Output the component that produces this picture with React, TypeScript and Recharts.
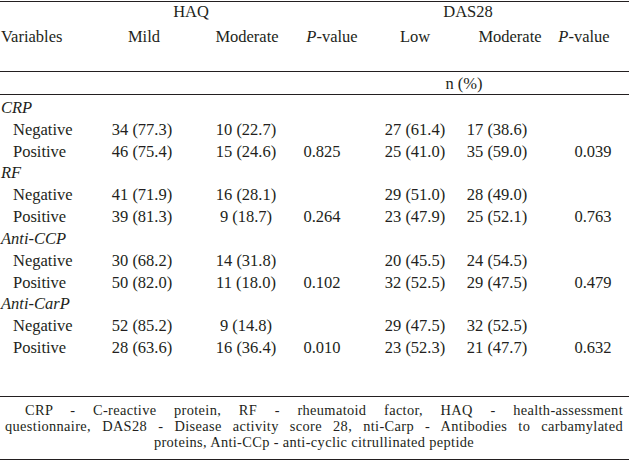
import { Scatter, ScatterChart, XAxis, YAxis } from 'recharts'

const variables = ['CRP', 'RF', 'Anti-CCP', 'Anti-CarP']

const haqMildNeg = [34, 41, 30, 52]
const haqMildNegPct = [77.3, 71.9, 68.2, 85.2]
const haqMildPos = [46, 39, 50, 28]
const haqMildPosPct = [75.4, 81.3, 82.0, 63.6]
const haqModNeg = [10, 16, 14, 9]
const haqModNegPct = [22.7, 28.1, 31.8, 14.8]
const haqModPos = [15, 9, 11, 16]
const haqModPosPct = [24.6, 18.7, 18.0, 36.4]
const haqP = [0.825, 0.264, 0.102, 0.01]

const dasLowNeg = [27, 29, 20, 29]
const dasLowNegPct = [61.4, 51.0, 45.5, 47.5]
const dasLowPos = [25, 23, 32, 23]
const dasLowPosPct = [41.0, 47.9, 52.5, 52.3]
const dasModNeg = [17, 28, 24, 32]
const dasModNegPct = [38.6, 49.0, 54.5, 52.5]
const dasModPos = [35, 25, 29, 21]
const dasModPosPct = [59.0, 52.1, 47.5, 47.7]
const dasP = [0.039, 0.763, 0.479, 0.632]

const subRows = ['Negative', 'Positive']
const footnoteLines = [
  'CRP - C-reactive protein, RF - rheumatoid factor, HAQ - health-assessment',
  'questionnaire, DAS28 - Disease activity score 28, nti-Carp - Antibodies to carbamylated',
  'proteins, Anti-CCp - anti-cyclic citrullinated peptide',
]

// layout: column stops on the x scale (0..629)
const COL_X = [142, 246, 322, 415, 497, 593]
const INK = '#231f20'
const FONT = 'Liberation Serif, DejaVu Serif, serif'
const ROW_COUNT = variables.length * 3

const np = (n: number, p: number) => `${n} (${p.toFixed(1)})`

type Cell = { x: number; y: number; text: string; group?: boolean }

const labelCells: Cell[] = []
const cols: Cell[][] = COL_X.map(() => [])
variables.forEach((v, i) => {
  const r = i * 3
  labelCells.push({ x: 0, y: r, text: v, group: true })
  subRows.forEach((s, j) => labelCells.push({ x: 0, y: r + 1 + j, text: s }))
  cols[0].push({ x: COL_X[0], y: r + 1, text: np(haqMildNeg[i], haqMildNegPct[i]) })
  cols[0].push({ x: COL_X[0], y: r + 2, text: np(haqMildPos[i], haqMildPosPct[i]) })
  cols[1].push({ x: COL_X[1], y: r + 1, text: np(haqModNeg[i], haqModNegPct[i]) })
  cols[1].push({ x: COL_X[1], y: r + 2, text: np(haqModPos[i], haqModPosPct[i]) })
  cols[2].push({ x: COL_X[2], y: r + 2, text: haqP[i].toFixed(3) })
  cols[3].push({ x: COL_X[3], y: r + 1, text: np(dasLowNeg[i], dasLowNegPct[i]) })
  cols[3].push({ x: COL_X[3], y: r + 2, text: np(dasLowPos[i], dasLowPosPct[i]) })
  cols[4].push({ x: COL_X[4], y: r + 1, text: np(dasModNeg[i], dasModNegPct[i]) })
  cols[4].push({ x: COL_X[4], y: r + 2, text: np(dasModPos[i], dasModPosPct[i]) })
  cols[5].push({ x: COL_X[5], y: r + 2, text: dasP[i].toFixed(3) })
})

function LabelShape(props: any) {
  const { cx, cy, payload } = props
  return (
    <text x={cx + (payload.group ? 1 : 13)} y={cy + 5} fontStyle={payload.group ? 'italic' : 'normal'} fill={INK} fontSize={16.5} fontFamily={FONT}>
      {payload.text}
    </text>
  )
}

function ValueShape(props: any) {
  const { cx, cy, payload } = props
  return (
    <text x={cx} y={cy + 5} textAnchor="middle" fill={INK} fontSize={16.5} fontFamily={FONT}>
      {payload.text}
    </text>
  )
}

const Rule = ({ y }: { y: number }) => <line x1={0} x2={629} y1={y} y2={y} stroke={INK} strokeWidth={1} />

const headStyle = { fill: INK, fontSize: 16.5, fontFamily: FONT }

export default function App() {
  return (
    <div style={{ position: 'relative', width: 629, height: 461, background: '#fff', fontFamily: FONT }}>
      <style>{'body{margin:0}'}</style>
      <ScatterChart width={629} height={461} margin={{ top: 97, right: 0, bottom: 102, left: 0 }} style={{ fontFamily: FONT }}>
        <XAxis type="number" dataKey="x" domain={[0, 629]} hide />
        <YAxis type="number" dataKey="y" domain={[-0.5, ROW_COUNT - 0.5]} reversed hide />
        <Scatter data={labelCells} shape={<LabelShape />} isAnimationActive={false} />
        {cols.map((c, i) => (
          <Scatter key={i} data={c} shape={<ValueShape />} isAnimationActive={false} />
        ))}
        <Rule y={1.5} />
        <Rule y={71.5} />
        <Rule y={94.5} />
        <Rule y={396.5} />
        <Rule y={459.5} />
        <text x={191} y={17} textAnchor="middle" {...headStyle}>HAQ</text>
        <text x={468} y={17} textAnchor="middle" {...headStyle}>DAS28</text>
        <text x={1} y={42} {...headStyle}>Variables</text>
        <text x={144} y={42} textAnchor="middle" {...headStyle}>Mild</text>
        <text x={247} y={42} textAnchor="middle" {...headStyle}>Moderate</text>
        <text x={332} y={42} textAnchor="middle" {...headStyle}><tspan fontStyle="italic">P</tspan>-value</text>
        <text x={415} y={42} textAnchor="middle" {...headStyle}>Low</text>
        <text x={510} y={42} textAnchor="middle" {...headStyle}>Moderate</text>
        <text x={584} y={42} textAnchor="middle" {...headStyle}><tspan fontStyle="italic">P</tspan>-value</text>
        <text x={464} y={89} textAnchor="middle" {...headStyle}>n (%)</text>
      </ScatterChart>
      <div
        style={{
          position: 'absolute',
          left: 0,
          top: 402,
          width: 629,
          boxSizing: 'border-box',
          padding: '0 6px 0 5px',
          fontFamily: FONT,
          fontSize: 14.4,
          lineHeight: '16px',
          letterSpacing: '0.35px',
          color: INK,
        }}
      >
        {footnoteLines.map((line, i) => (
          <div
            key={i}
            style={{
              whiteSpace: 'nowrap',
              textAlign: i < footnoteLines.length - 1 ? 'justify' : 'center',
              textAlignLast: i < footnoteLines.length - 1 ? 'justify' : 'center',
              paddingLeft: i === 0 ? 20 : 0,
            }}
          >
            {line}
          </div>
        ))}
      </div>
    </div>
  )
}
